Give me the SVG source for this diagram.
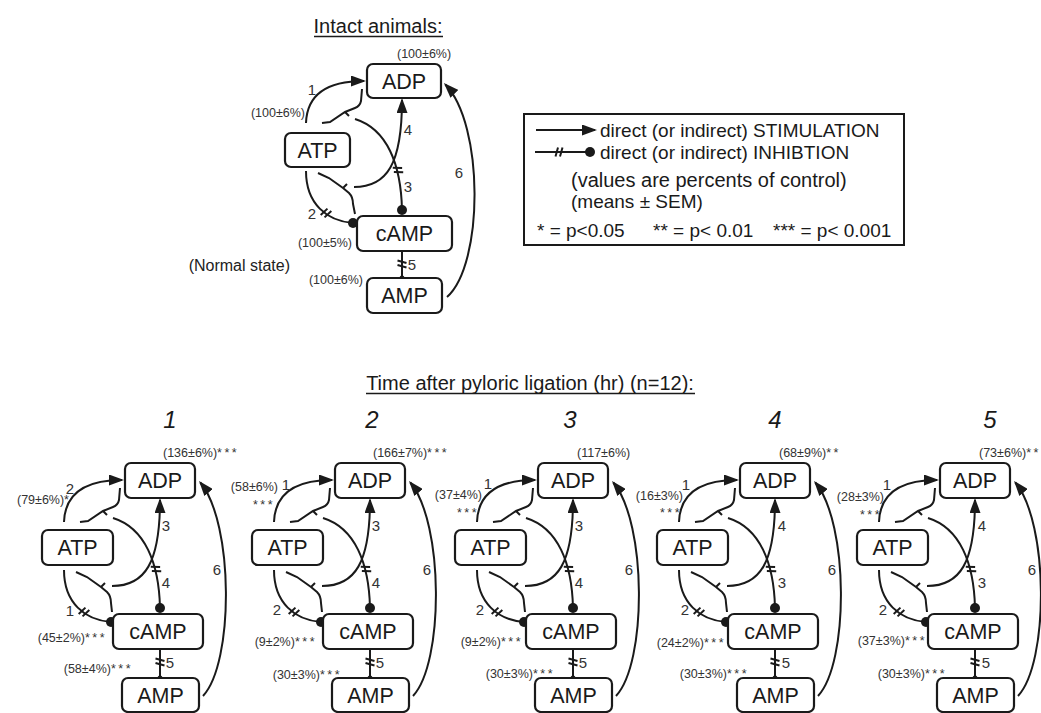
<svg xmlns="http://www.w3.org/2000/svg" width="1041" height="713" viewBox="0 0 1041 713">
<defs>
<style>
text{font-family:"Liberation Sans",Arial,sans-serif;fill:#222}
.box{fill:#fff;stroke:#1a1a1a;stroke-width:2.2}
.bl{font-size:21.5px;text-anchor:middle;fill:#1a1a1a}
.ln{fill:none;stroke:#1a1a1a;stroke-width:2}
.arr{marker-end:url(#ah)}
.dot{fill:#1a1a1a}
.num{font-size:15px;text-anchor:middle;fill:#333}
.pct{font-size:12.5px;fill:#333}
.st{letter-spacing:2.5px}
.e{text-anchor:end}
.m{text-anchor:middle}
.ttl{font-size:24px;font-style:italic;text-anchor:middle;fill:#1a1a1a}
.hd{font-size:20px;fill:#1a1a1a;text-anchor:middle}
.lg{font-size:19px;fill:#1a1a1a}
</style>
<marker id="ah" markerUnits="userSpaceOnUse" markerWidth="15" markerHeight="11" viewBox="0 0 15 11" refX="13" refY="5.5" orient="auto"><path d="M0,0 L15,5.5 L0,11 Z" fill="#1a1a1a"/></marker>
<path id="tk" d="M-3.5,4.5 L-1,-4.5 M1,4.5 L3.5,-4.5" fill="none" stroke="#1a1a1a" stroke-width="2"/>
</defs>
<rect width="1041" height="713" fill="#fff"/>

<g id="headings">
<text class="hd" x="378" y="33">Intact animals:</text>
<line x1="314" y1="36.5" x2="443" y2="36.5" stroke="#1a1a1a" stroke-width="1.3"/>
<text class="hd" x="530" y="390">Time after pyloric ligation (hr) (n=12):</text>
<line x1="366" y1="393.5" x2="695" y2="393.5" stroke="#1a1a1a" stroke-width="1.3"/>
<text class="ttl" x="170" y="428">1</text>
<text class="ttl" x="372" y="428">2</text>
<text class="ttl" x="570" y="428">3</text>
<text class="ttl" x="775" y="428">4</text>
<text class="ttl" x="990" y="428">5</text>
<text x="290" y="271" class="e" style="font-size:16px">(Normal state)</text>
</g>

<g id="legend">
<rect x="524" y="114" width="380" height="131" fill="#fff" stroke="#1a1a1a" stroke-width="2"/>
<path class="ln arr" d="M536,130 L595,130"/>
<text class="lg" x="600" y="137">direct (or indirect) STIMULATION</text>
<path class="ln" d="M535,152 L586,152"/>
<use href="#tk" transform="translate(559,152)"/>
<circle class="dot" cx="590" cy="152" r="5"/>
<text class="lg" x="600" y="159">direct (or indirect) INHIBTION</text>
<text class="lg" x="571" y="187" style="font-size:20px">(values are percents of control)</text>
<text class="lg" x="571" y="208">(means ± SEM)</text>
<text class="lg" x="537" y="237">* = p&lt;0.05</text>
<text class="lg" x="653" y="237">** = p&lt; 0.01</text>
<text class="lg" x="773" y="237">*** = p&lt; 0.001</text>
</g>

<g id="top" transform="translate(367,64)">
 <g id="top-connectors">
  <path class="ln arr" d="M-61,59 C-60,30 -40,17 -3,17"/>
  <path class="ln" d="M-61,107 C-61,140 -40,157 -14,159"/>
  <circle class="dot" cx="-14" cy="159" r="5"/>
  <use href="#tk" transform="translate(-41,149) rotate(31)"/>
  <path class="ln" d="M35,146 C34,100 20,65 -12,55"/>
  <circle class="dot" cx="35" cy="146" r="5"/>
  <use href="#tk" transform="translate(31,106) rotate(-104)"/>
  <path class="ln arr" d="M-13,123 C20,123 35,100 35,36"/>
  <path class="ln" d="M-45,59 L-37,58 L-22,48 L-12,44 Q-7,42 -6,37 L-5,25 M-22,48 L-18,52"/>
  <path class="ln" d="M-49,109 L-38,114 L-24,124 L-18,129 Q-14,133 -14,140 L-12,150 M-24,124 L-20,120"/>
  <path class="ln" d="M35,187 L35,214"/>
  <circle class="dot" cx="35" cy="214" r="2.5"/>
  <use href="#tk" transform="translate(35,200) rotate(90)"/>
  <path class="ln arr" d="M80,233 C117,200 117,60 78.3,20.5"/>
 </g>
 <g id="top-adp"><rect class="box" x="0" y="0" width="74" height="34" rx="6"/><text class="bl" x="37" y="24.5">ADP</text></g>
 <g id="top-atp"><rect class="box" x="-82" y="69" width="65" height="34" rx="6"/><text class="bl" x="-49.5" y="93.5">ATP</text></g>
 <g id="top-camp"><rect class="box" x="-10" y="152" width="95" height="35" rx="6"/><text class="bl" x="37.5" y="177">cAMP</text></g>
 <g id="top-amp"><rect class="box" x="0" y="214" width="75" height="35" rx="6"/><text class="bl" x="37.5" y="239">AMP</text></g>
</g>
<g id="top-labels">
 <text class="pct" x="397" y="58">(100±6%)</text>
 <text class="num" x="312" y="95">1</text>
 <text class="pct e" x="305" y="117">(100±6%)</text>
 <text class="num" x="408" y="135">4</text>
 <text class="num" x="408" y="192">3</text>
 <text class="num" x="312" y="219">2</text>
 <text class="pct e" x="352" y="247">(100±5%)</text>
 <text class="num" x="412" y="270">5</text>
 <text class="pct e" x="363" y="284">(100±6%)</text>
 <text class="num" x="459" y="178">6</text>
</g>

<g id="d1" transform="translate(125,463)">
 <g id="d1-connectors">
  <path class="ln arr" d="M-61,59 C-60,30 -40,17 -3,17"/>
  <path class="ln" d="M-61,107 C-61,140 -40,157 -14,159"/>
  <circle class="dot" cx="-14" cy="159" r="5"/>
  <use href="#tk" transform="translate(-41,149) rotate(31)"/>
  <path class="ln" d="M35,145 C34,100 20,65 -12,55"/>
  <circle class="dot" cx="35" cy="145" r="5"/>
  <use href="#tk" transform="translate(31,106) rotate(-104)"/>
  <path class="ln arr" d="M-13,123 C20,123 35,100 35,37"/>
  <path class="ln" d="M-45,59 L-37,58 L-22,48 L-12,44 Q-7,42 -6,37 L-5,25 M-22,48 L-18,52"/>
  <path class="ln" d="M-49,109 L-38,114 L-24,124 L-18,129 Q-14,133 -14,140 L-13,149 M-24,124 L-20,120"/>
  <path class="ln" d="M35,186 L35,215"/>
  <circle class="dot" cx="35" cy="215" r="2.5"/>
  <use href="#tk" transform="translate(35,199) rotate(90)"/>
  <path class="ln arr" d="M78,233 C109,200 109,60 75.3,19.5"/>
 </g>
 <g id="d1-adp"><rect class="box" x="0" y="0" width="70" height="35" rx="6"/><text class="bl" x="35" y="25">ADP</text></g>
 <g id="d1-atp"><rect class="box" x="-83" y="67" width="71" height="35" rx="6"/><text class="bl" x="-47.5" y="92">ATP</text></g>
 <g id="d1-camp"><rect class="box" x="-12" y="151" width="90" height="35" rx="6"/><text class="bl" x="33" y="176">cAMP</text></g>
 <g id="d1-amp"><rect class="box" x="-3" y="215" width="77" height="34" rx="6"/><text class="bl" x="35.5" y="239.5">AMP</text></g>
</g>
<g id="d1-labels">
 <text class="pct" x="163" y="457">(136±6%)<tspan class="st">***</tspan></text>
 <text class="num" x="70" y="494">2</text>
 <text class="pct e" x="69" y="504">(79±6%)*</text>
 <text class="num" x="166" y="531">3</text>
 <text class="num" x="166" y="588">4</text>
 <text class="num" x="70" y="616">1</text>
 <text class="pct e" x="107" y="642">(45±2%)<tspan class="st">***</tspan></text>
 <text class="num" x="170" y="668">5</text>
 <text class="pct e" x="133" y="673">(58±4%)<tspan class="st">***</tspan></text>
 <text class="num" x="217" y="575">6</text>
</g>

<g id="d2" transform="translate(335,463)">
 <g id="d2-connectors">
  <path class="ln arr" d="M-61,59 C-60,30 -40,17 -3,17"/>
  <path class="ln" d="M-61,107 C-61,140 -40,157 -14,159"/>
  <circle class="dot" cx="-14" cy="159" r="5"/>
  <use href="#tk" transform="translate(-41,149) rotate(31)"/>
  <path class="ln" d="M35,145 C34,100 20,65 -12,55"/>
  <circle class="dot" cx="35" cy="145" r="5"/>
  <use href="#tk" transform="translate(31,106) rotate(-104)"/>
  <path class="ln arr" d="M-13,123 C20,123 35,100 35,37"/>
  <path class="ln" d="M-45,59 L-37,58 L-22,48 L-12,44 Q-7,42 -6,37 L-5,25 M-22,48 L-18,52"/>
  <path class="ln" d="M-49,109 L-38,114 L-24,124 L-18,129 Q-14,133 -14,140 L-13,149 M-24,124 L-20,120"/>
  <path class="ln" d="M35,186 L35,215"/>
  <circle class="dot" cx="35" cy="215" r="2.5"/>
  <use href="#tk" transform="translate(35,199) rotate(90)"/>
  <path class="ln arr" d="M78,233 C109,200 109,60 75.3,19.5"/>
 </g>
 <g id="d2-adp"><rect class="box" x="0" y="0" width="70" height="35" rx="6"/><text class="bl" x="35" y="25">ADP</text></g>
 <g id="d2-atp"><rect class="box" x="-83" y="67" width="71" height="35" rx="6"/><text class="bl" x="-47.5" y="92">ATP</text></g>
 <g id="d2-camp"><rect class="box" x="-12" y="151" width="90" height="35" rx="6"/><text class="bl" x="33" y="176">cAMP</text></g>
 <g id="d2-amp"><rect class="box" x="-3" y="215" width="77" height="34" rx="6"/><text class="bl" x="35.5" y="239.5">AMP</text></g>
</g>
<g id="d2-labels">
 <text class="pct" x="373" y="457">(166±7%)<tspan class="st">***</tspan></text>
 <text class="pct e" x="278" y="491">(58±6%)</text>
 <text class="num" x="286" y="490">1</text>
 <text class="pct m st" x="264" y="509">***</text>
 <text class="num" x="376" y="531">3</text>
 <text class="num" x="376" y="588">4</text>
 <text class="num" x="277" y="615">2</text>
 <text class="pct e" x="317" y="646">(9±2%)<tspan class="st">***</tspan></text>
 <text class="num" x="380" y="668">5</text>
 <text class="pct e" x="342" y="679">(30±3%)<tspan class="st">***</tspan></text>
 <text class="num" x="427" y="575">6</text>
</g>

<g id="d3" transform="translate(538,463)">
 <g id="d3-connectors">
  <path class="ln arr" d="M-61,59 C-60,30 -40,17 -3,17"/>
  <path class="ln" d="M-61,107 C-61,140 -40,157 -14,159"/>
  <circle class="dot" cx="-14" cy="159" r="5"/>
  <use href="#tk" transform="translate(-41,149) rotate(31)"/>
  <path class="ln" d="M35,145 C34,100 20,65 -12,55"/>
  <circle class="dot" cx="35" cy="145" r="5"/>
  <use href="#tk" transform="translate(31,106) rotate(-104)"/>
  <path class="ln arr" d="M-13,123 C20,123 35,100 35,37"/>
  <path class="ln" d="M-45,59 L-37,58 L-22,48 L-12,44 Q-7,42 -6,37 L-5,25 M-22,48 L-18,52"/>
  <path class="ln" d="M-49,109 L-38,114 L-24,124 L-18,129 Q-14,133 -14,140 L-13,149 M-24,124 L-20,120"/>
  <path class="ln" d="M35,186 L35,215"/>
  <circle class="dot" cx="35" cy="215" r="2.5"/>
  <use href="#tk" transform="translate(35,199) rotate(90)"/>
  <path class="ln arr" d="M78,233 C109,200 109,60 75.3,19.5"/>
 </g>
 <g id="d3-adp"><rect class="box" x="0" y="0" width="70" height="35" rx="6"/><text class="bl" x="35" y="25">ADP</text></g>
 <g id="d3-atp"><rect class="box" x="-83" y="67" width="71" height="35" rx="6"/><text class="bl" x="-47.5" y="92">ATP</text></g>
 <g id="d3-camp"><rect class="box" x="-12" y="151" width="90" height="35" rx="6"/><text class="bl" x="33" y="176">cAMP</text></g>
 <g id="d3-amp"><rect class="box" x="-3" y="215" width="77" height="34" rx="6"/><text class="bl" x="35.5" y="239.5">AMP</text></g>
</g>
<g id="d3-labels">
 <text class="pct" x="577" y="457">(117±6%)</text>
 <text class="num" x="488" y="489">1</text>
 <text class="pct e" x="482" y="499">(37±4%)</text>
 <text class="pct m st" x="468" y="517">***</text>
 <text class="num" x="579" y="531">3</text>
 <text class="num" x="579" y="588">4</text>
 <text class="num" x="480" y="615">2</text>
 <text class="pct e" x="523" y="646">(9±2%)<tspan class="st">***</tspan></text>
 <text class="num" x="583" y="668">5</text>
 <text class="pct e" x="555" y="678">(30±3%)<tspan class="st">***</tspan></text>
 <text class="num" x="629" y="575">6</text>
</g>

<g id="d4" transform="translate(740,463)">
 <g id="d4-connectors">
  <path class="ln arr" d="M-61,59 C-60,30 -40,17 -3,17"/>
  <path class="ln" d="M-61,107 C-61,140 -40,157 -14,159"/>
  <circle class="dot" cx="-14" cy="159" r="5"/>
  <use href="#tk" transform="translate(-41,149) rotate(31)"/>
  <path class="ln" d="M35,145 C34,100 20,65 -12,55"/>
  <circle class="dot" cx="35" cy="145" r="5"/>
  <use href="#tk" transform="translate(31,106) rotate(-104)"/>
  <path class="ln arr" d="M-13,123 C20,123 35,100 35,37"/>
  <path class="ln" d="M-45,59 L-37,58 L-22,48 L-12,44 Q-7,42 -6,37 L-5,25 M-22,48 L-18,52"/>
  <path class="ln" d="M-49,109 L-38,114 L-24,124 L-18,129 Q-14,133 -14,140 L-13,149 M-24,124 L-20,120"/>
  <path class="ln" d="M35,186 L35,215"/>
  <circle class="dot" cx="35" cy="215" r="2.5"/>
  <use href="#tk" transform="translate(35,199) rotate(90)"/>
  <path class="ln arr" d="M78,233 C109,200 109,60 75.3,19.5"/>
 </g>
 <g id="d4-adp"><rect class="box" x="0" y="0" width="70" height="35" rx="6"/><text class="bl" x="35" y="25">ADP</text></g>
 <g id="d4-atp"><rect class="box" x="-83" y="67" width="71" height="35" rx="6"/><text class="bl" x="-47.5" y="92">ATP</text></g>
 <g id="d4-camp"><rect class="box" x="-12" y="151" width="90" height="35" rx="6"/><text class="bl" x="33" y="176">cAMP</text></g>
 <g id="d4-amp"><rect class="box" x="-3" y="215" width="77" height="34" rx="6"/><text class="bl" x="35.5" y="239.5">AMP</text></g>
</g>
<g id="d4-labels">
 <text class="pct" x="779" y="457">(68±9%)<tspan class="st">**</tspan></text>
 <text class="num" x="686" y="490">1</text>
 <text class="pct e" x="683" y="500">(16±3%)</text>
 <text class="pct m st" x="671" y="517">***</text>
 <text class="num" x="782" y="531">4</text>
 <text class="num" x="782" y="588">3</text>
 <text class="num" x="685" y="615">2</text>
 <text class="pct e" x="726" y="647">(24±2%)<tspan class="st">***</tspan></text>
 <text class="num" x="786" y="668">5</text>
 <text class="pct e" x="749" y="678">(30±3%)<tspan class="st">***</tspan></text>
 <text class="num" x="832" y="575">6</text>
</g>

<g id="d5" transform="translate(940,463)">
 <g id="d5-connectors">
  <path class="ln arr" d="M-61,59 C-60,30 -40,17 -3,17"/>
  <path class="ln" d="M-61,107 C-61,140 -40,157 -14,159"/>
  <circle class="dot" cx="-14" cy="159" r="5"/>
  <use href="#tk" transform="translate(-41,149) rotate(31)"/>
  <path class="ln" d="M35,145 C34,100 20,65 -12,55"/>
  <circle class="dot" cx="35" cy="145" r="5"/>
  <use href="#tk" transform="translate(31,106) rotate(-104)"/>
  <path class="ln arr" d="M-13,123 C20,123 35,100 35,37"/>
  <path class="ln" d="M-45,59 L-37,58 L-22,48 L-12,44 Q-7,42 -6,37 L-5,25 M-22,48 L-18,52"/>
  <path class="ln" d="M-49,109 L-38,114 L-24,124 L-18,129 Q-14,133 -14,140 L-13,149 M-24,124 L-20,120"/>
  <path class="ln" d="M35,186 L35,215"/>
  <circle class="dot" cx="35" cy="215" r="2.5"/>
  <use href="#tk" transform="translate(35,199) rotate(90)"/>
  <path class="ln arr" d="M78,233 C109,200 109,60 75.3,19.5"/>
 </g>
 <g id="d5-adp"><rect class="box" x="0" y="0" width="70" height="35" rx="6"/><text class="bl" x="35" y="25">ADP</text></g>
 <g id="d5-atp"><rect class="box" x="-83" y="67" width="71" height="35" rx="6"/><text class="bl" x="-47.5" y="92">ATP</text></g>
 <g id="d5-camp"><rect class="box" x="-12" y="151" width="90" height="35" rx="6"/><text class="bl" x="33" y="176">cAMP</text></g>
 <g id="d5-amp"><rect class="box" x="-3" y="215" width="77" height="34" rx="6"/><text class="bl" x="35.5" y="239.5">AMP</text></g>
</g>
<g id="d5-labels">
 <text class="pct" x="979" y="457">(73±6%)<tspan class="st">**</tspan></text>
 <text class="num" x="887" y="490">1</text>
 <text class="pct e" x="884" y="501">(28±3%)</text>
 <text class="pct m st" x="871" y="519">***</text>
 <text class="num" x="982" y="531">4</text>
 <text class="num" x="982" y="588">3</text>
 <text class="num" x="883" y="615">2</text>
 <text class="pct e" x="927" y="645">(37±3%)<tspan class="st">***</tspan></text>
 <text class="num" x="986" y="668">5</text>
 <text class="pct e" x="947" y="678">(30±3%)<tspan class="st">***</tspan></text>
 <text class="num" x="1032" y="575">6</text>
</g>
</svg>
